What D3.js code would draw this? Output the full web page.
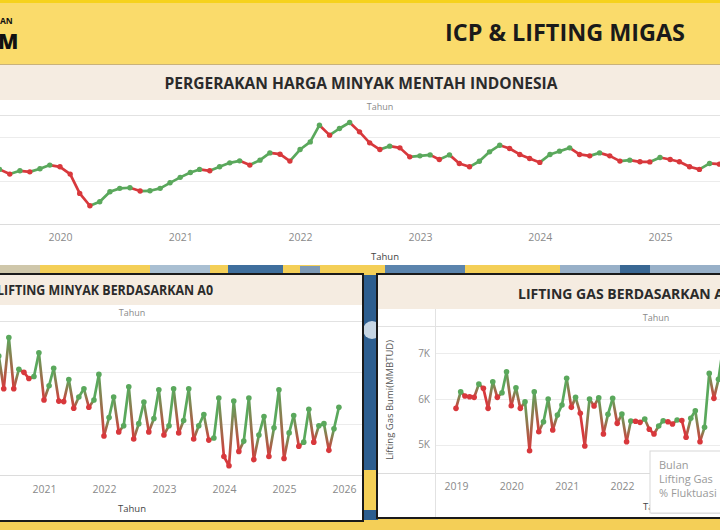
<!DOCTYPE html>
<html>
<head>
<meta charset="utf-8">
<script src="https://cdn.jsdelivr.net/npm/d3@7"></script>
<style>
  body { margin: 0; background: #f4cf57; }
  svg { display: block; font-family: "Open Sans", "Noto Sans", sans-serif; }
</style>
</head>
<body>
<div id="chart"></div>
<script>
var width = 720, height = 530;
var green = "#5aa85c", red = "#d8383c";

// ICP (USD/barel), bulanan mulai Jun 2019
var icpStart = "2019-06";
var icpValues = [61.0,
  63.1, 57.7, 61.5, 60.3, 63.8, 68.1,
  66.1, 57.7, 35.4, 21.1, 25.7, 37.3, 41.2, 41.9, 38.1, 38.4, 41.2, 47.6,
  53.9, 59.6, 63.1, 61.5, 66.1, 70.7, 73.0, 68.1, 73.8, 82.2, 80.7, 72.7,
  86.1, 94.9, 114.2, 102.7, 110.4, 117.3, 106.5, 93.8, 86.1, 90.0, 88.0, 77.6,
  78.8, 79.9, 74.6, 79.9, 70.0, 66.1, 72.5, 83.4, 91.1, 87.3, 80.4, 75.8,
  71.2, 80.4, 84.2, 88.0, 80.4, 78.8, 82.2, 78.8, 72.7, 73.8, 71.9, 71.8,
  76.9, 74.6, 71.9, 66.1, 63.1, 70.0, 69.2];
var icpYears = [2020, 2021, 2022, 2023, 2024, 2025];

// Lifting minyak (ribu barel/hari), bulanan mulai Mar 2020
var oilStart = "2020-03";
var oilValues = [650,
  666, 634, 684, 634, 653, 650, 644, 646, 669,
  623, 637, 654, 622, 621.5, 643, 615, 626, 634, 616, 623, 648,
  588, 606, 626, 592, 598, 636, 585, 600, 621, 592, 605, 633,
  589, 598, 634, 591, 603, 634, 585, 598, 609, 584, 586, 625,
  568, 559, 622, 573, 583, 625, 565, 589, 607, 568, 596, 633,
  566, 591, 608, 578, 582, 614, 582, 598, 600, 574, 595, 616];
var oilYears = [2021, 2022, 2023, 2024, 2025, 2026];

// Lifting gas bumi (MMBTUD), bulanan mulai Jan 2019
var gasStart = "2019-01";
var gasValues = [
  5796, 6160, 6066, 6050, 6037, 6328, 6234, 5796, 6379, 6037, 6138, 6597,
  5853, 6247, 5796, 5941, 4869, 6160, 5284, 5503, 6000, 5322, 5650, 5869,
  6453, 5818, 6037, 5687, 4972, 6000, 5847, 6028, 5234, 5665, 6015, 5468,
  5672, 5066, 5519, 5515, 5490, 5562, 5337, 5234, 5409, 5526, 5503, 5453,
  5540, 5530, 5162, 5578, 5744, 5066, 5380, 6562, 6015, 6431, 7150];
var gasYears = [2019, 2020, 2021, 2022];   // 2023 lies under the tooltip
var gasTicks = [5000, 6000, 7000];

var tooltipLines = ["Bulan", "Lifting Gas", "% Fluktuasi"];

var parseMonth = d3.timeParse("%Y-%m");
var yearDate = function(y) { return new Date(y, 0, 1); };

function series(start, values) {
  var t0 = parseMonth(start);
  return values.map(function(v, i) {
    return {date: d3.timeMonth.offset(t0, i), value: v, up: i > 0 && v > values[i - 1]};
  });
}

var svg = d3.select("#chart").append("svg")
    .attr("width", width)
    .attr("height", height);

var defs = svg.append("defs");

// ---- background: yellow with blue illustration bits
svg.append("rect").attr("width", width).attr("height", height).attr("fill", "#f4cf57");
var deco = [
  [150, 265, 60, 10, "#a9bfd2"], [228, 264, 55, 12, "#3f6f9d"], [300, 266, 20, 9, "#7d99b5"],
  [385, 265, 80, 10, "#5b84ad"], [560, 265, 160, 10, "#98b0c8"], [620, 264, 30, 11, "#3a6894"],
  [363, 275, 15, 245, "#2d5e8f"], [0, 265, 40, 9, "#cfc7aa"]
];
svg.selectAll("rect.deco").data(deco).enter().append("rect")
    .attr("class", "deco")
    .attr("x", function(d) { return d[0]; })
    .attr("y", function(d) { return d[1]; })
    .attr("width", function(d) { return d[2]; })
    .attr("height", function(d) { return d[3]; })
    .attr("fill", function(d) { return d[4]; });
svg.append("circle").attr("cx", 372).attr("cy", 330).attr("r", 9).attr("fill", "#c7d6e4");
svg.append("rect").attr("x", 363).attr("y", 470).attr("width", 15).attr("height", 40).attr("fill", "#f4cf57");

// ---- banner
svg.append("rect").attr("width", width).attr("height", 64).attr("fill", "#fadb6b");
svg.append("rect").attr("width", width).attr("height", 3).attr("fill", "#f6d21d");
svg.append("line").attr("x1", 0).attr("x2", width).attr("y1", 64.5).attr("y2", 64.5)
    .attr("stroke", "#c9b27a").attr("stroke-width", 1);
svg.append("text").attr("x", 0).attr("y", 24).attr("font-size", 8.5).attr("font-weight", 700)
    .attr("fill", "#111").text("AN");
svg.append("text").attr("x", -2).attr("y", 49).attr("font-size", 21).attr("font-weight", 800)
    .attr("fill", "#111").text("M");
svg.append("text").attr("x", 685).attr("y", 41).attr("text-anchor", "end")
    .attr("font-size", 23).attr("font-weight", 700).attr("fill", "#1a1a1a")
    .attr("textLength", 240).attr("lengthAdjust", "spacingAndGlyphs")
    .text("ICP & LIFTING MIGAS");

// ---- generic line chart
function drawChart(opt) {
  var data = series(opt.start, opt.values);
  var x = d3.scaleTime()
      .domain([yearDate(opt.years[0]), yearDate(opt.years[opt.years.length - 1])])
      .range(opt.xRange);
  var y = d3.scaleLinear().domain(opt.yDomain).range([opt.bottom, opt.top]);

  var g = svg.append("g");

  // gridlines
  g.selectAll("line.grid").data(opt.grid).enter().append("line")
      .attr("x1", opt.left).attr("x2", opt.right)
      .attr("y1", function(d) { return Math.round(y(d)) + 0.5; })
      .attr("y2", function(d) { return Math.round(y(d)) + 0.5; })
      .attr("stroke", "#ececec");
  g.append("line").attr("x1", opt.left).attr("x2", opt.right)
      .attr("y1", opt.top + 0.5).attr("y2", opt.top + 0.5).attr("stroke", "#e2e2e2");
  g.append("line").attr("x1", opt.left).attr("x2", opt.right)
      .attr("y1", opt.bottom + 0.5).attr("y2", opt.bottom + 0.5).attr("stroke", "#dcdcdc");

  // x axis labels (years)
  var xAxis = d3.axisBottom(x)
      .tickValues(opt.years.map(yearDate))
      .tickFormat(d3.timeFormat("%Y"))
      .tickSize(0).tickPadding(0);
  var ax = g.append("g").attr("transform", "translate(0," + opt.tickY + ")").call(xAxis);
  ax.select(".domain").remove();
  ax.selectAll("text").attr("fill", "#8a8a8a").attr("font-size", 10.5)
      .attr("font-family", "Open Sans, sans-serif").attr("dy", "0.35em");

  // header + axis title
  g.append("text").attr("x", opt.headerX).attr("y", opt.top - 5)
      .attr("text-anchor", "middle").attr("font-size", 9).attr("fill", "#8a8a8a").text("Tahun");
  g.append("text").attr("x", opt.titleX).attr("y", opt.titleY)
      .attr("text-anchor", "middle").attr("font-size", 9.5).attr("fill", "#444").text("Tahun");

  // marks, clipped to the plot area
  var clipId = "clip" + opt.id;
  defs.append("clipPath").attr("id", clipId).append("rect")
      .attr("x", opt.left).attr("y", opt.top - 8)
      .attr("width", opt.right - opt.left).attr("height", opt.bottom - opt.top + 10);
  var marks = g.append("g").attr("clip-path", "url(#" + clipId + ")");

  var segs = data.slice(1).map(function(d, i) { return {a: data[i], b: d, i: i}; });
  if (opt.gradient) {
    segs.forEach(function(s) {
      var gr = defs.append("linearGradient").attr("id", "g" + opt.id + s.i)
          .attr("gradientUnits", "userSpaceOnUse")
          .attr("x1", x(s.a.date)).attr("y1", y(s.a.value))
          .attr("x2", x(s.b.date)).attr("y2", y(s.b.value));
      gr.append("stop").attr("offset", "0%").attr("stop-color", s.a.up ? green : red);
      gr.append("stop").attr("offset", "100%").attr("stop-color", s.b.up ? green : red);
    });
  }
  marks.selectAll("line.seg").data(segs).enter().append("line")
      .attr("x1", function(s) { return x(s.a.date); })
      .attr("y1", function(s) { return y(s.a.value); })
      .attr("x2", function(s) { return x(s.b.date); })
      .attr("y2", function(s) { return y(s.b.value); })
      .attr("stroke", function(s) {
        return opt.gradient ? "url(#g" + opt.id + s.i + ")" : (s.b.up ? green : red);
      })
      .attr("stroke-width", opt.lineWidth)
      .attr("stroke-linecap", "round");
  marks.selectAll("circle").data(data).enter().append("circle")
      .attr("cx", function(d) { return x(d.date); })
      .attr("cy", function(d) { return y(d.value); })
      .attr("r", opt.r)
      .attr("fill", function(d) { return d.up ? green : red; });

  return {x: x, y: y, g: g};
}

// ---- panel 1: ICP
svg.append("rect").attr("x", 0).attr("y", 65).attr("width", width).attr("height", 200).attr("fill", "#fff");
svg.append("rect").attr("x", 0).attr("y", 65).attr("width", width).attr("height", 35).attr("fill", "#f5ece1");
svg.append("text").attr("x", 361).attr("y", 89).attr("text-anchor", "middle")
    .attr("font-size", 15.5).attr("font-weight", 700).attr("fill", "#2b2b2b")
    .attr("textLength", 393).attr("lengthAdjust", "spacingAndGlyphs")
    .text("PERGERAKAN HARGA MINYAK MENTAH INDONESIA");

drawChart({
  id: "icp", start: icpStart, values: icpValues, years: icpYears,
  xRange: [60, 60 + 120 * (icpYears.length - 1)],
  yDomain: [0, 126], grid: [50, 100],
  left: 0, right: width, top: 115, bottom: 224,
  tickY: 237, headerX: 380, titleX: 385, titleY: 260,
  gradient: false, lineWidth: 2.7, r: 2.7
});

// ---- panel 2: lifting minyak
svg.append("rect").attr("x", -2).attr("y", 274).attr("width", 365).attr("height", 247)
    .attr("fill", "#fff").attr("stroke", "#1a1a1a").attr("stroke-width", 2);
svg.append("rect").attr("x", 0).attr("y", 275).attr("width", 362).attr("height", 30).attr("fill", "#f5ece1");
svg.append("text").attr("x", -3).attr("y", 295)
    .attr("font-size", 14.5).attr("font-weight", 700).attr("fill", "#2b2b2b")
    .attr("textLength", 216).attr("lengthAdjust", "spacingAndGlyphs")
    .text("LIFTING MINYAK BERDASARKAN A0");

drawChart({
  id: "oil", start: oilStart, values: oilValues, years: oilYears,
  xRange: [44, 44 + 60 * (oilYears.length - 1)],
  yDomain: [550, 700], grid: [600, 650],
  left: 0, right: 362, top: 321, bottom: 475,
  tickY: 489, headerX: 132, titleX: 132, titleY: 512,
  gradient: true, lineWidth: 2.7, r: 2.8
});

// ---- panel 3: lifting gas
svg.append("rect").attr("x", 377).attr("y", 274).attr("width", 350).attr("height", 244)
    .attr("fill", "#fff").attr("stroke", "#1a1a1a").attr("stroke-width", 2);
svg.append("rect").attr("x", 378).attr("y", 275).attr("width", 345).attr("height", 34).attr("fill", "#f5ece1");
svg.append("text").attr("x", 518).attr("y", 299)
    .attr("font-size", 15).attr("font-weight", 700).attr("fill", "#2b2b2b")
    .attr("textLength", 214).attr("lengthAdjust", "spacingAndGlyphs")
    .text("LIFTING GAS BERDASARKAN A0");
svg.append("line").attr("x1", 378).attr("x2", 720).attr("y1", 326.5).attr("y2", 326.5).attr("stroke", "#e2e2e2");
svg.append("line").attr("x1", 378).attr("x2", 435).attr("y1", 473.5).attr("y2", 473.5).attr("stroke", "#dcdcdc");
svg.append("line").attr("x1", 435.5).attr("x2", 435.5).attr("y1", 309).attr("y2", 517).attr("stroke", "#e2e2e2");

var gas = drawChart({
  id: "gas", start: gasStart, values: gasValues, years: gasYears,
  xRange: [456, 456 + 55.3 * (gasYears.length - 1)],
  yDomain: [4380, 7600], grid: gasTicks,
  left: 436, right: 720, top: 326, bottom: 473,
  tickY: 486, headerX: 656, titleX: 657, titleY: 510,
  gradient: true, lineWidth: 2.7, r: 2.8
});

var yAxis = d3.axisLeft(gas.y).tickValues(gasTicks)
    .tickFormat(function(d) { return (d / 1000) + "K"; })
    .tickSize(0).tickPadding(0);
var ay = svg.append("g").attr("transform", "translate(430,0)").call(yAxis);
ay.select(".domain").remove();
ay.selectAll("text").attr("fill", "#8a8a8a").attr("font-size", 10)
    .attr("font-family", "Open Sans, sans-serif");
svg.append("text").attr("transform", "translate(393,400) rotate(-90)")
    .attr("text-anchor", "middle").attr("font-size", 9.5).attr("fill", "#555")
    .text("Lifting Gas Bumi(MMBTUD)");

// tooltip box
var tip = svg.append("g").attr("transform", "translate(650,451)");
tip.append("rect").attr("x", 1).attr("y", 1).attr("width", 80).attr("height", 62).attr("fill", "#e6e6e6");
tip.append("rect").attr("width", 80).attr("height", 62).attr("fill", "#fff").attr("stroke", "#d8d8d8");
tip.selectAll("text").data(tooltipLines).enter().append("text")
    .attr("x", 9).attr("y", function(d, i) { return 18 + i * 14; })
    .attr("font-size", 11).attr("fill", "#9a9a9a").text(function(d) { return d; });
</script>
</body>
</html>
